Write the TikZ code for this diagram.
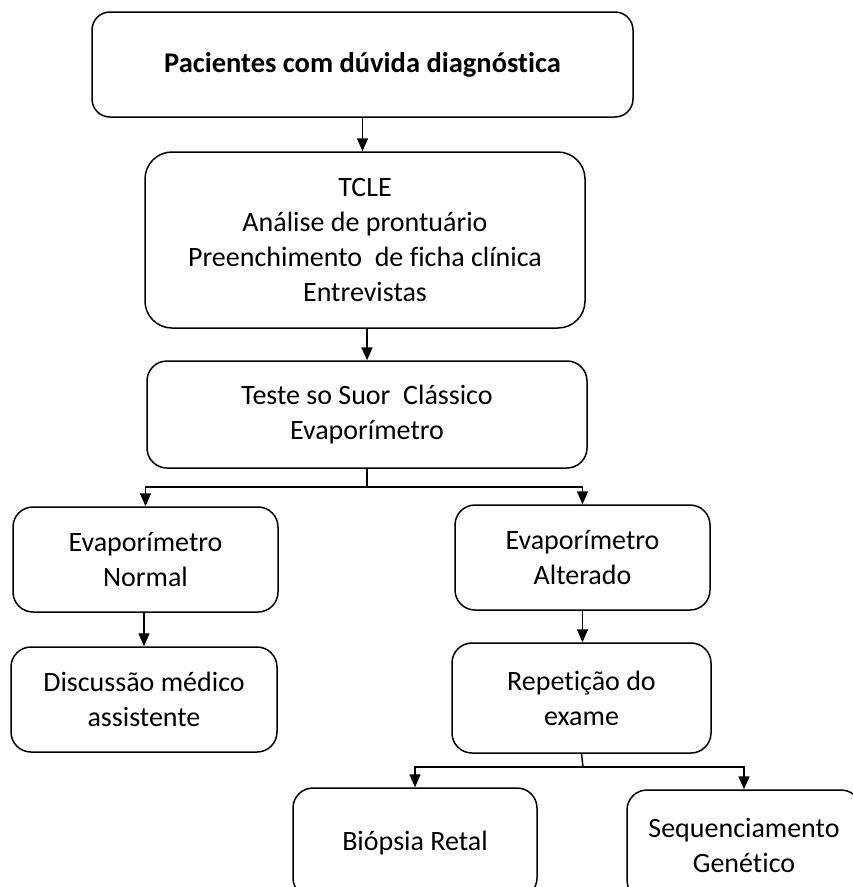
\documentclass[tikz,border=0pt]{standalone}
\usepackage{fontspec}
\setmainfont{Carlito}[Ligatures={NoCommon}]
\usepackage{xcolor}
\usepackage{tikz}
\usetikzlibrary{arrows.meta, positioning}
\definecolor{boxline}{RGB}{0, 0, 0}
\definecolor{arrowblack}{RGB}{0, 0, 0}

\begin{document}
\begin{tikzpicture}[x=1pt, y=-1pt, >={Triangle[width=11pt,length=13pt]},
    box/.style={draw=boxline, line width=1.5pt, rounded corners=20pt, inner sep=0pt, align=center,
        font=\fontsize{28}{35}\selectfont},
    arr/.style={->, arrowblack, line width=1.5pt}]
    \useasboundingbox (0,0) rectangle (853,887);

    % Top: patients
    \node[box, rounded corners=18pt, minimum width=541pt, minimum height=105pt,
        font=\fontsize{28.5}{34}\selectfont\bfseries] at (362.5,64.5) (pac) {Pacientes com dúvida diagnóstica};

    % Consent and records
    \node[box, rounded corners=27pt, minimum width=440pt, minimum height=176pt] at (365,240) (tcle)
        {TCLE\\Análise de prontuário\\Preenchimento\ \ de ficha clínica\\Entrevistas};
    \draw[arr] (pac.south) -- (pac.south |- tcle.north);

    % Sweat test
    \node[box, minimum width=440pt, minimum height=107pt] at (367,414.5) (suor)
        {Teste so Suor\ \ Clássico\\Evaporímetro};
    \draw[arr] (suor.north |- tcle.south) -- (suor.north);

    % Evaporimeter results
    \node[box, minimum width=265pt, minimum height=105pt] at (145.5,559.5) (normal) {Evaporímetro\\Normal};
    \node[box, minimum width=255pt, minimum height=105pt] at (582.5,557.5) (alterado) {Evaporímetro\\Alterado};
    \coordinate (split1) at (367,487);
    \draw[arrowblack, line width=1.5pt] (suor.south) -- (split1);
    \draw[arr] (split1) -| (normal.north);
    \draw[arr] (split1) -| (alterado.north);

    % Next steps
    \node[box, minimum width=266pt, minimum height=105pt] at (144,699.5) (discussao) {Discussão médico\\assistente};
    \draw[arr] (discussao.north |- normal.south) -- (discussao.north);
    \node[box, minimum width=259pt, minimum height=110pt] at (581.5,698) (repeticao) {Repetição do\\exame};
    \draw[arr] (alterado.south) -- (alterado.south |- repeticao.north);

    % Final exams
    \node[box, minimum width=244pt, minimum height=110pt] at (415,843) (biopsia) {Biópsia Retal};
    \node[box, minimum width=234pt, minimum height=110pt] at (744,845) (sequenc) {Sequenciamento\\Genético};
    \coordinate (split2) at (583,767);
    \draw[arrowblack, line width=1.5pt] (repeticao.south) -- (split2);
    \draw[arr] (split2) -| (biopsia.north);
    \draw[arr] (split2) -| (sequenc.north);

\end{tikzpicture}
\end{document}
